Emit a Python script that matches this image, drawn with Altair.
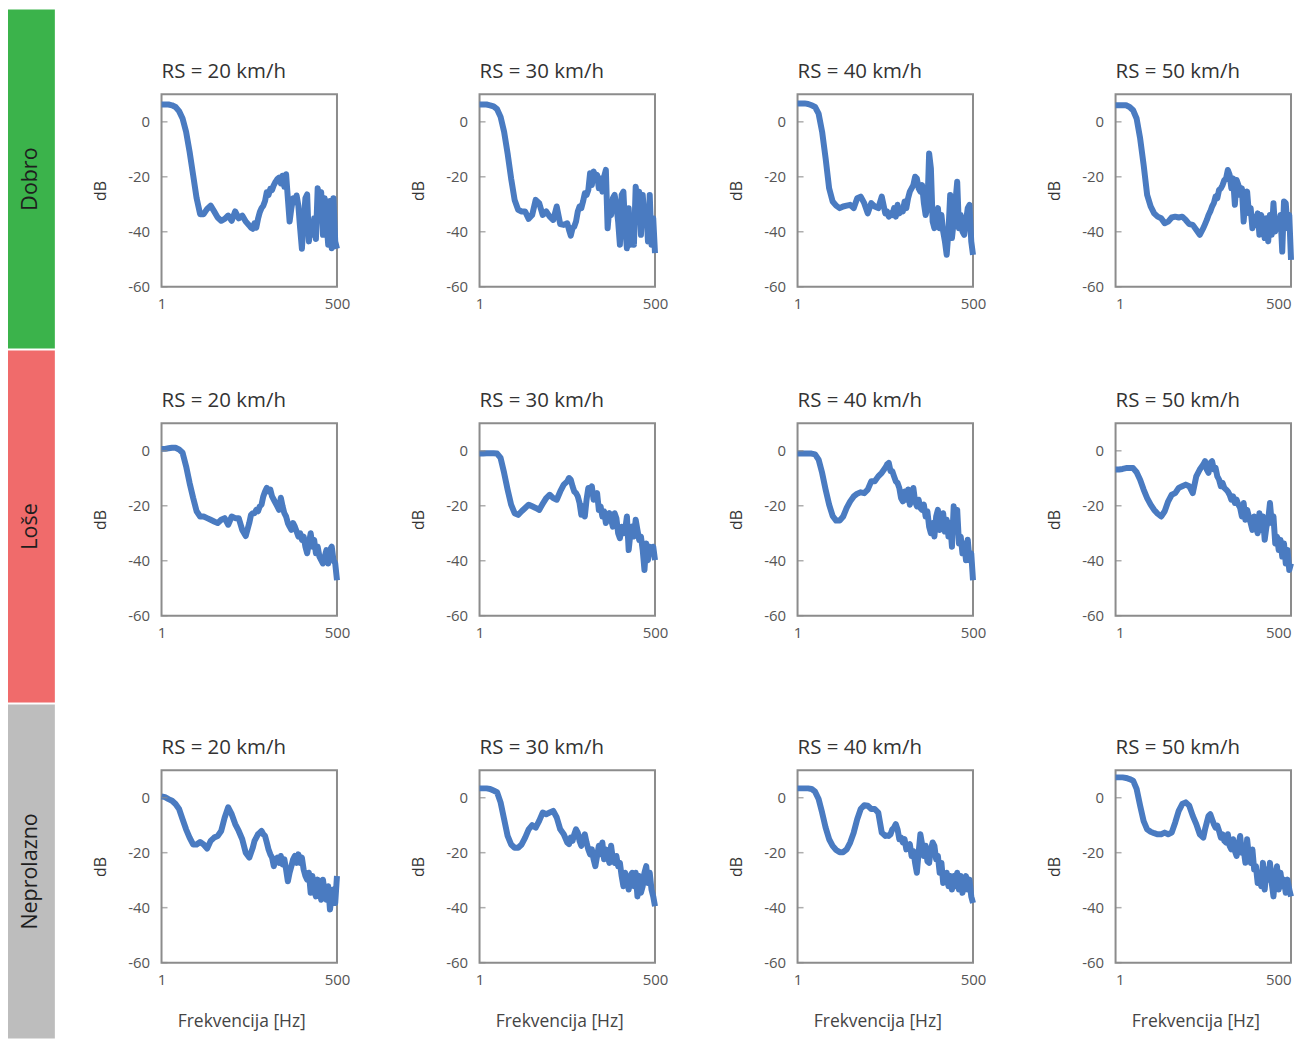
import altair as alt
import pandas as pd

# frequency grid (Hz), log-spaced
FREQ = [1, 1.132, 1.282, 1.452, 1.644, 1.862, 2.108, 2.387, 2.703, 3.061, 3.466, 3.924,
        4.444, 5.032, 5.698, 6.452, 7.306, 8.273, 9.368, 10.61, 12.01, 13.60, 15.40,
        17.44, 19.75, 22.36,
        23.79, 25.32, 26.94, 28.67, 30.51, 32.47, 34.55, 36.77, 39.12, 41.63,
        44.30, 47.14, 50.16, 53.38, 56.80, 60.44, 64.32, 68.44, 72.83, 77.50,
        82.47, 87.76, 93.39, 99.37, 105.7, 112.5, 119.7, 127.4, 135.6, 144.3,
        153.5, 163.4, 173.8, 185.0, 196.9, 209.5, 222.9, 237.2, 252.4, 268.6,
        285.8, 304.1, 323.6, 344.4, 366.5, 390.0, 415.0, 441.6, 469.9, 500]

ROW_NAMES = ["Dobro", "Loše", "Neprolazno"]
ROW_COLORS = ["#3bb34b", "#f06b6b", "#bdbdbd"]
SPEEDS = [20, 30, 40, 50]
X_TICKS = [1, 500]
Y_TICKS = [0, -20, -40, -60]

DOBRO_20 = [6.3, 6.3, 6.3, 6.0, 5.4, 3.9, 1.2, -3.6, -10.9, -19.3, -27.8, -33.6, -33.6, -31.7, -30.5, -32.6, -34.8, -36.0, -35.3, -34.1, -36.0, -32.6, -35.1, -34.1, -36.3, -37.7,
            -38.5, -38.9, -36.9, -38.5, -35.3, -32.9, -31.4, -30.5, -28.8, -25.6,
            -26.6, -24.4, -24.8, -23.0, -21.8, -20.8, -20.3, -22.4, -19.6, -23.6,
            -19.1, -27.8, -36.3, -31.4, -27.8, -29.3, -26.8, -30.5, -38.7, -46.2,
            -36.3, -27.8, -26.4, -43.5, -37.5, -41.1, -35.1, -42.6, -24.2, -27.8,
            -25.6, -41.1, -27.8, -36.3, -44.7, -28.8, -46.0, -27.8, -43.5, -46.2]
DOBRO_30 = [6.3, 6.3, 6.3, 6.0, 5.6, 4.6, 1.8, -3.6, -11.5, -20.6, -28.4, -32.0, -32.6, -32.6, -35.3, -33.9, -28.4, -29.6, -33.9, -32.6, -34.5, -35.7, -30.8, -37.2, -37.5, -36.9,
            -39.3, -41.4, -38.7, -38.1, -36.3, -32.6, -30.8, -31.4, -29.0, -26.0,
            -26.6, -24.8, -18.7, -23.0, -18.1, -20.6, -19.3, -24.2, -20.6, -25.4,
            -20.0, -17.5, -38.7, -31.4, -33.9, -27.8, -26.6, -30.2, -36.3, -44.7,
            -26.6, -25.4, -38.7, -46.0, -31.4, -44.7, -35.1, -44.7, -23.6, -29.0,
            -25.4, -41.1, -26.6, -35.1, -31.4, -43.5, -26.6, -44.7, -35.1, -47.8]
DOBRO_40 = [6.7, 6.7, 6.7, 6.5, 6.0, 5.4, 3.0, -3.6, -13.3, -24.2, -29.0, -30.5, -31.4, -30.8, -30.5, -30.2, -31.4, -27.8, -27.2, -29.6, -33.3, -29.6, -30.8, -31.4, -27.2, -33.3,
            -32.6, -34.5, -33.3, -33.9, -31.4, -34.5, -30.2, -33.3, -32.0, -32.6,
            -29.0, -31.4, -27.8, -25.4, -24.2, -23.0, -20.0, -20.6, -24.2, -25.4,
            -23.0, -29.6, -33.9, -31.4, -11.5, -16.9, -36.3, -38.7, -33.9, -31.4,
            -38.7, -33.9, -39.9, -43.5, -48.4, -39.9, -26.6, -42.3, -36.3, -29.0,
            -21.8, -38.7, -33.9, -39.9, -41.1, -36.3, -31.4, -30.2, -43.5, -48.4]
DOBRO_50 = [6.0, 6.0, 6.0, 6.0, 5.4, 4.2, 1.2, -6.0, -15.7, -26.6, -30.8, -33.3, -34.5, -35.1, -36.9, -36.3, -34.8, -34.5, -34.8, -34.5, -35.7, -37.2, -37.5, -39.3, -41.1, -38.7,
            -37.2, -35.7, -33.9, -32.6, -30.8, -29.6, -27.2, -27.8, -24.8, -24.2,
            -23.0, -21.2, -20.6, -17.5, -19.3, -24.2, -20.6, -30.2, -21.2, -23.0,
            -26.6, -24.2, -36.3, -27.8, -25.4, -33.3, -31.4, -38.7, -34.5, -37.5,
            -33.3, -41.1, -33.9, -36.3, -42.3, -35.1, -43.5, -33.9, -41.1, -29.6,
            -39.9, -36.3, -38.7, -33.9, -47.2, -29.0, -29.6, -38.7, -33.9, -50.2]

LOSE_20 = [0.7, 0.7, 0.9, 1.1, 1.1, 0.5, -0.7, -5.6, -11.7, -17.1, -22.0, -23.9, -23.9, -24.5, -25.1, -25.7, -26.3, -25.1, -24.5, -26.9, -23.9, -24.5, -24.5, -28.8, -31.0, -26.3,
           -23.3, -22.7, -22.7, -21.5, -22.0, -20.2, -19.6, -16.6, -14.8, -13.5,
           -14.8, -14.1, -16.6, -17.8, -19.0, -20.2, -21.5, -17.1, -20.2, -22.7,
           -23.9, -26.3, -27.6, -28.8, -26.3, -27.6, -29.4, -31.2, -30.0, -32.4,
           -31.2, -34.9, -37.3, -33.7, -30.0, -34.9, -32.4, -37.3, -34.9, -38.5,
           -39.8, -41.0, -38.5, -36.1, -41.0, -36.1, -34.9, -39.8, -41.0, -47.1]
LOSE_30 = [-1.0, -1.0, -0.9, -0.9, -0.9, -1.0, -2.6, -8.0, -14.1, -19.6, -22.7, -23.3, -22.0, -20.8, -19.6, -20.2, -20.8, -21.5, -19.3, -17.2, -16.0, -17.2, -17.8, -14.8, -12.3, -11.1,
           -9.9, -10.5, -12.9, -14.8, -15.4, -16.6, -19.0, -23.3, -20.2, -23.9,
           -17.8, -13.5, -14.8, -12.9, -17.8, -16.6, -15.4, -21.5, -20.2, -23.9,
           -22.0, -26.3, -23.9, -22.7, -25.1, -27.6, -22.7, -24.5, -30.0, -31.8,
           -27.6, -30.0, -28.8, -23.9, -36.1, -30.0, -27.6, -31.2, -25.1, -28.8,
           -32.4, -31.2, -36.1, -43.4, -33.7, -39.8, -34.9, -37.3, -34.9, -39.8]
LOSE_40 = [-1.0, -1.0, -1.0, -1.0, -1.0, -1.3, -3.2, -8.0, -14.1, -19.6, -23.7, -25.4, -25.4, -23.9, -20.8, -18.4, -16.6, -15.6, -15.1, -15.4, -14.1, -11.1, -11.1, -9.3, -8.0, -6.2,
           -5.0, -4.4, -7.4, -7.4, -9.3, -11.1, -11.7, -13.5, -17.2, -18.4,
           -14.8, -17.8, -14.1, -19.6, -17.2, -13.5, -18.4, -20.2, -17.8, -20.8,
           -21.5, -19.6, -23.9, -22.0, -27.6, -30.0, -26.3, -31.2, -23.9, -21.5,
           -28.8, -25.1, -22.7, -29.4, -25.1, -31.2, -26.3, -34.9, -20.2, -26.3,
           -21.5, -33.7, -31.2, -37.3, -33.7, -39.8, -32.4, -39.8, -37.3, -47.1]
LOSE_50 = [-6.8, -6.8, -6.6, -6.3, -6.3, -6.3, -7.8, -10.5, -14.1, -17.2, -19.6, -21.5, -22.9, -23.9, -22.0, -18.4, -16.0, -15.4, -13.5, -12.9, -12.3, -12.9, -15.4, -9.3, -6.8, -5.0,
           -3.8, -6.8, -8.0, -4.4, -3.8, -6.8, -6.2, -9.3, -10.5, -12.9,
           -11.7, -13.5, -14.1, -14.8, -16.0, -17.8, -16.6, -19.0, -17.8, -19.6,
           -20.8, -23.9, -19.0, -25.1, -21.5, -23.9, -26.3, -28.8, -23.9, -27.6,
           -30.0, -22.7, -28.8, -23.9, -32.4, -27.6, -25.1, -19.0, -26.3, -23.9,
           -33.7, -31.2, -36.1, -32.4, -38.5, -33.7, -41.0, -36.1, -43.4, -41.0]

NEPR_20 = [0.5, 0.2, -0.5, -1.1, -2.3, -4.1, -7.8, -11.5, -14.5, -17.0, -17.0, -16.1, -17.0, -18.5, -15.7, -14.5, -13.9, -12.1, -7.2, -3.5, -6.0, -9.6, -12.1, -15.1, -20.0, -21.8,
           -20.0, -18.2, -15.7, -14.5, -13.3, -12.7, -12.1, -13.3, -13.9, -16.3,
           -18.8, -20.6, -21.8, -24.9, -22.4, -21.8, -23.7, -21.2, -24.3, -22.4,
           -26.1, -30.4, -27.3, -24.9, -22.4, -21.2, -23.7, -20.6, -23.7, -21.8,
           -26.1, -28.5, -29.8, -27.3, -34.6, -28.5, -33.4, -35.9, -29.8, -33.4,
           -37.1, -29.8, -34.6, -37.1, -32.2, -40.7, -35.9, -33.4, -38.3, -28.5]
NEPR_30 = [3.4, 3.4, 3.4, 3.2, 2.6, 2.0, -1.7, -7.8, -13.9, -17.0, -18.2, -18.2, -17.0, -14.5, -11.5, -10.0, -10.9, -8.4, -5.4, -6.0, -5.4, -4.8, -7.2, -11.5, -13.3, -16.3,
           -16.9, -14.5, -15.7, -13.3, -11.5, -12.7, -15.7, -17.5, -14.5, -13.3,
           -16.3, -18.8, -20.6, -18.8, -22.4, -24.9, -21.2, -17.5, -20.6, -16.3,
           -22.4, -18.8, -21.2, -23.7, -17.5, -22.4, -23.7, -21.2, -24.9, -23.7,
           -28.5, -32.2, -27.3, -29.8, -33.4, -28.5, -27.3, -32.2, -27.3, -35.9,
           -28.5, -34.6, -32.2, -27.3, -24.9, -31.0, -27.3, -33.4, -35.9, -39.5]
NEPR_40 = [3.4, 3.4, 3.4, 3.4, 3.2, 2.2, -0.5, -5.4, -10.9, -15.1, -17.5, -19.0, -19.8, -19.8, -18.8, -16.3, -12.7, -7.8, -4.1, -2.7, -2.9, -4.1, -4.1, -5.4, -12.7, -13.9,
           -13.7, -13.9, -13.3, -11.5, -10.9, -9.6, -11.5, -15.1, -14.5, -16.3,
           -15.1, -18.8, -17.5, -16.9, -21.2, -19.4, -23.7, -27.3, -20.0, -13.3,
           -16.9, -21.2, -17.5, -23.1, -23.7, -18.8, -16.3, -17.5, -22.4, -21.2,
           -27.3, -23.7, -31.0, -28.5, -27.3, -32.2, -28.5, -33.4, -28.5, -32.2,
           -27.3, -33.4, -28.5, -34.6, -31.0, -28.5, -33.4, -29.8, -35.9, -38.3]
NEPR_50 = [7.4, 7.4, 7.4, 7.2, 6.8, 6.2, 3.2, -2.9, -8.5, -11.5, -12.4, -12.9, -13.3, -13.3, -12.7, -13.3, -12.7, -9.0, -4.8, -2.3, -1.7, -2.9, -6.6, -9.6, -13.3, -14.5,
           -11.5, -9.0, -6.6, -6.0, -7.8, -9.6, -10.9, -10.2, -12.1, -14.5,
           -13.3, -15.7, -16.3, -13.3, -17.5, -18.8, -15.1, -19.4, -21.2, -17.5,
           -13.9, -20.0, -18.8, -23.7, -15.1, -21.2, -23.7, -18.8, -26.1, -24.9,
           -31.0, -27.3, -32.2, -23.7, -33.4, -26.1, -29.8, -23.7, -31.0, -35.9,
           -28.5, -24.9, -33.4, -27.3, -32.2, -29.8, -34.6, -29.8, -33.4, -35.9]

SERIES = [
    [DOBRO_20, DOBRO_30, DOBRO_40, DOBRO_50],
    [LOSE_20, LOSE_30, LOSE_40, LOSE_50],
    [NEPR_20, NEPR_30, NEPR_40, NEPR_50],
]

FONT = "Open Sans"
LINE = "#4a7bc1"
FRAME = "#8c8c8c"
BAND_HEIGHTS = [340, 353, 335]


def panel(vals, speed, last, rightmost):
    df = pd.DataFrame({"f": FREQ, "db": vals})
    x_axis = alt.Axis(values=X_TICKS, labelExpr="datum.value", labelFlush=rightmost,
                      labelPadding=10, ticks=False, domain=False, grid=False,
                      labelFontSize=15, labelColor="#555", labelFont=FONT,
                      title="Frekvencija [Hz]" if last else None,
                      titleFont=FONT, titleFontSize=17.5, titleFontWeight="normal",
                      titleColor="#444", titlePadding=25, titleX=80)
    y_axis = alt.Axis(values=Y_TICKS, labelExpr="datum.value", ticks=False, domain=False,
                      grid=False, labelPadding=12, labelFontSize=15, labelColor="#555",
                      labelFont=FONT, title="dB", titleFont=FONT, titleFontSize=16,
                      titleFontWeight="normal", titleColor="#333", titlePadding=19)
    xs = alt.Scale(type="log", domain=[1, 500], nice=False)
    ys = alt.Scale(domain=[-60, 10], nice=False)
    line = alt.Chart(df).mark_line(color=LINE, strokeWidth=6, strokeJoin="round").encode(
        x=alt.X("f:Q", scale=xs, axis=x_axis),
        y=alt.Y("db:Q", scale=ys, axis=y_axis),
    )
    # short inward tick marks on the left frame at the y tick values
    tdf = pd.DataFrame({"f": [X_TICKS[0]] * len(Y_TICKS), "db": Y_TICKS})
    ticks = alt.Chart(tdf).mark_tick(orient="horizontal", size=6, thickness=1.5,
                                     color=FRAME, xOffset=3).encode(
        x=alt.X("f:Q", scale=xs),
        y=alt.Y("db:Q", scale=ys),
    )
    return alt.layer(line, ticks).properties(
        width=176, height=193,
        title=alt.TitleParams(text=f"RS = {speed} km/h", anchor="start", frame="group",
                              font=FONT, fontSize=20.5, fontWeight="normal", color="#333",
                              offset=12),
        view=alt.ViewBackground(stroke=FRAME, strokeWidth=2),
    )


def band(name, color, h):
    df = pd.DataFrame({"grp": [name]})
    base = alt.Chart(df)
    sx = alt.X("grp:N", axis=None, scale=alt.Scale(paddingInner=0, paddingOuter=0))
    sy = alt.Y("grp:N", axis=None, scale=alt.Scale(paddingInner=0, paddingOuter=0))
    rect = base.mark_rect(color=color).encode(x=sx, y=sy)
    txt = base.mark_text(angle=270, font=FONT, fontSize=21.5, color="#1e1e1e").encode(
        x=sx, y=sy, text="grp:N")
    return alt.layer(rect, txt).properties(width=47, height=h,
                                           view=alt.ViewBackground(strokeWidth=0))


rows = []
for i in range(3):
    panels = [panel(SERIES[i][j], SPEEDS[j], i == 2, j == 3) for j in range(4)]
    rows.append(alt.hconcat(*panels, spacing=59))

# empty top spacer so the grid starts lower than the coloured row bands
spacer = alt.Chart(pd.DataFrame({"v": [0]})).mark_rect(opacity=0).encode(
    color=alt.value("#ffffff")).properties(width=1, height=1)

grid = alt.vconcat(
    spacer,
    alt.vconcat(alt.vconcat(rows[0], rows[1], spacing=77), rows[2], spacing=95),
    spacing=50,
)

bands = alt.vconcat(*[band(ROW_NAMES[i], ROW_COLORS[i], BAND_HEIGHTS[i]) for i in range(3)],
                    spacing=2)

chart = alt.hconcat(bands, grid, spacing=37).properties(padding=0).configure_view(strokeWidth=0)

chart.save("out.html", embed_options={"renderer": "svg", "actions": False})
